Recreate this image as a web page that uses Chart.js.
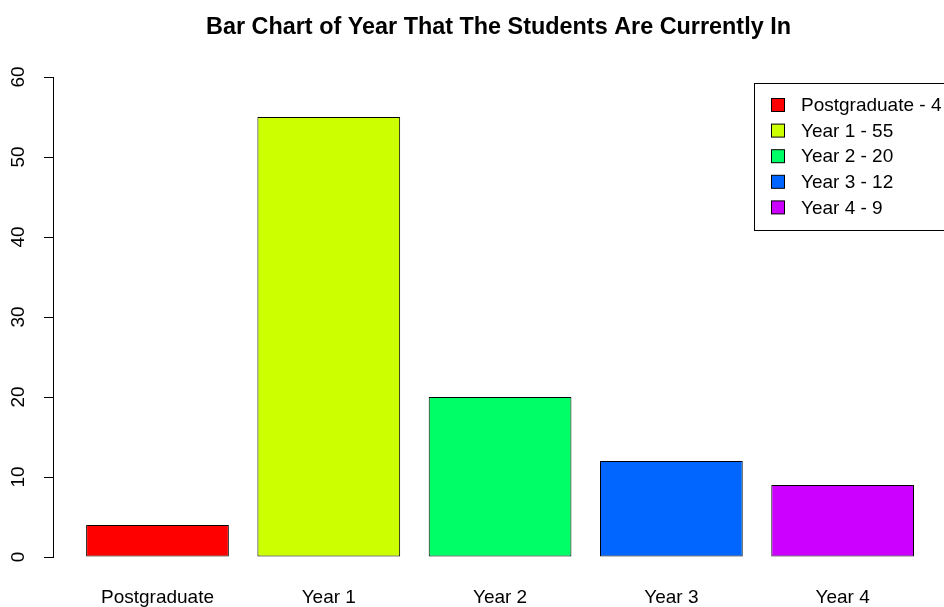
<!DOCTYPE html>
<html>
<head>
<meta charset="utf-8">
<script src="https://cdn.jsdelivr.net/npm/chart.js@4"></script>
<style>
  html, body { margin: 0; padding: 0; background: #fff; }
  #wrap { width: 944px; height: 607px; }
</style>
</head>
<body>
<div id="wrap"><canvas id="yearChart"></canvas></div>
<script>
const categories = ["Postgraduate", "Year 1", "Year 2", "Year 3", "Year 4"];
const counts = [4, 55, 20, 12, 9];
const barColors = ["#FF0000", "#CCFF00", "#00FF66", "#0066FF", "#CC00FF"];
const yTicks = [0, 10, 20, 30, 40, 50, 60];
const titleText = "Bar Chart of Year That The Students Are Currently In";

// R barplot style positions: bar width 1, space 0.2
const barCenters = categories.map((c, i) => 0.7 + 1.2 * i);

const FONT = "'Liberation Sans', Arial, sans-serif";

// title centred over the plot region like R does
const rTitle = {
  id: "rTitle",
  afterDraw(chart) {
    const ctx = chart.ctx;
    const a = chart.chartArea;
    ctx.save();
    ctx.font = "bold 23.4px " + FONT;
    ctx.fillStyle = "#000";
    ctx.textAlign = "center";
    ctx.textBaseline = "middle";
    ctx.fillText(titleText, (a.left + a.right) / 2, 28);
    ctx.restore();
  }
};

const rLegend = {
  id: "rLegend",
  afterDraw(chart) {
    const ctx = chart.ctx;
    ctx.save();
    ctx.strokeStyle = "#000";
    ctx.lineWidth = 1;
    ctx.strokeRect(754.5, 83.5, 200, 147);
    ctx.font = "19px " + FONT;
    ctx.textBaseline = "middle";
    ctx.textAlign = "left";
    categories.forEach((c, i) => {
      const y = 105 + i * 25.6;
      ctx.fillStyle = barColors[i];
      ctx.fillRect(771.5, y - 6.5, 13, 13);
      ctx.strokeRect(771.5, y - 6.5, 13, 13);
      ctx.fillStyle = "#000";
      ctx.fillText(c + " - " + counts[i], 801, y + 1);
    });
    ctx.restore();
  }
};

const yLabels = {
  id: "yLabels",
  afterDraw(chart) {
    const ctx = chart.ctx;
    const y = chart.scales.y;
    ctx.save();
    ctx.font = "19px " + FONT;
    ctx.fillStyle = "#000";
    ctx.textAlign = "center";
    ctx.textBaseline = "middle";
    yTicks.forEach((v) => {
      const py = y.getPixelForValue(v);
      ctx.save();
      ctx.translate(19, py);
      ctx.rotate(-Math.PI / 2);
      ctx.fillText(String(v), 0, 0);
      ctx.restore();
    });
    ctx.restore();
  }
};

new Chart(document.getElementById("yearChart"), {
  type: "bar",
  data: {
    datasets: [
      {
        data: barCenters.map((x, i) => ({ x: x, y: counts[i] })),
        backgroundColor: barColors,
        borderColor: "#000",
        borderWidth: 1,
        borderSkipped: false,
        categoryPercentage: 1,
        barPercentage: 1 / 1.2,
      },
    ],
  },
  options: {
    responsive: true,
    maintainAspectRatio: false,
    animation: false,
    layout: { padding: { left: 0, right: 0, top: 77, bottom: 0 } },
    plugins: {
      legend: { display: false },
      tooltip: { enabled: false },
      title: { display: false },
    },
    scales: {
      x: {
        type: "linear",
        offset: false,
        min: -0.032,
        max: 6.21,
        grid: { display: false, drawTicks: false, offset: false },
        border: { display: false },
        afterBuildTicks: (s) => {
          s.ticks = barCenters.map((v) => ({ value: v }));
        },
        afterFit: (s) => {
          s.height = 50;
        },
        ticks: {
          color: "#000",
          font: { family: FONT, size: 19 },
          padding: 29,
          maxRotation: 0,
          autoSkip: false,
          callback: (v, i) => categories[i],
        },
      },
      y: {
        min: 0,
        max: 60,
        afterBuildTicks: (s) => {
          s.ticks = yTicks.map((v) => ({ value: v }));
        },
        afterFit: (s) => {
          s.width = 53;
        },
        grid: {
          display: true,
          drawOnChartArea: false,
          drawTicks: true,
          tickLength: 9,
          color: "#000",
        },
        border: { display: true, color: "#000", width: 1 },
        ticks: { display: false },
      },
    },
  },
  plugins: [rTitle, rLegend, yLabels],
});
</script>
</body>
</html>
